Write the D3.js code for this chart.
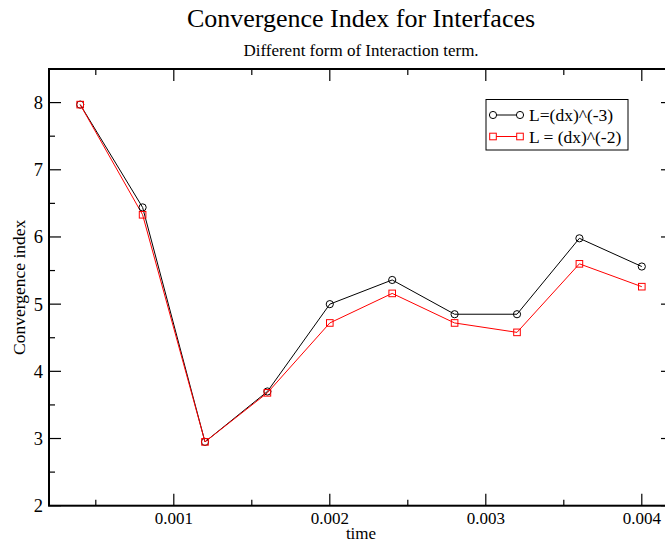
<!DOCTYPE html>
<html><head><meta charset="utf-8">
<script src="https://cdn.jsdelivr.net/npm/d3@7"></script>
<style>html,body{margin:0;padding:0;background:#fff;overflow:hidden}
svg text{font-family:"Liberation Serif","Times New Roman",Times,"DejaVu Serif",serif;}</style>
</head><body>
<svg id="c" width="665" height="542"></svg>
<script>
const times = [0.0004,0.0008,0.0012,0.0016,0.0020,0.0024,0.0028,0.0032,0.0036,0.0040];
const seriesA = [7.97,6.44,2.95,3.70,5.00,5.36,4.85,4.85,5.98,5.56];
const seriesB = [7.97,6.33,2.95,3.68,4.72,5.16,4.72,4.58,5.60,5.26];
const seriesNames = ["L=(dx)^(-3)","L = (dx)^(-2)"];
const xTickLabels = ["0.001","0.002","0.003","0.004"];
const yTickLabels = ["2","3","4","5","6","7","8"];

const svg = d3.select("#c");
const L=49, R=673, T=69, B=505.7;
const x = d3.scaleLinear().domain([0.0002,0.0042]).range([L,R]);
const y = d3.scaleLinear().domain([2,8.5]).range([B,T]);

svg.append("text").attr("x",(L+R)/2).attr("y",27).attr("text-anchor","middle")
  .attr("font-size",26).text("Convergence Index for Interfaces");
svg.append("text").attr("x",(L+R)/2).attr("y",56).attr("text-anchor","middle")
  .attr("font-size",17).text("Different form of Interaction term.");

const g = svg.append("g");
const majX = xTickLabels.map(Number);
const minX = [0.0005,0.0015,0.0025,0.0035];
const majY = yTickLabels.map(Number);
const minY = [2.5,3.5,4.5,5.5,6.5,7.5];

function ticksX(vals,len){
  vals.forEach(v=>{
    g.append("line").attr("x1",x(v)).attr("x2",x(v)).attr("y1",B).attr("y2",B-len).attr("stroke","#000").attr("stroke-width",1.2);
    g.append("line").attr("x1",x(v)).attr("x2",x(v)).attr("y1",T).attr("y2",T+len).attr("stroke","#000").attr("stroke-width",1.2);
  });
}
function ticksY(vals,len){
  vals.forEach(v=>{
    g.append("line").attr("y1",y(v)).attr("y2",y(v)).attr("x1",L).attr("x2",L+len).attr("stroke","#000").attr("stroke-width",1.2);
    g.append("line").attr("y1",y(v)).attr("y2",y(v)).attr("x1",R).attr("x2",R-len).attr("stroke","#000").attr("stroke-width",1.2);
  });
}
ticksX(majX,12); ticksX(minX,6); ticksY(majY,12); ticksY(minY,6);

g.append("rect").attr("x",L).attr("y",T).attr("width",R-L).attr("height",B-T)
  .attr("fill","none").attr("stroke","#000").attr("stroke-width",2);

majX.forEach((v,i)=>{
  svg.append("text").attr("x",x(v)).attr("y",524).attr("text-anchor","middle")
    .attr("font-size",17).text(xTickLabels[i]);
});
majY.forEach((v,i)=>{
  svg.append("text").attr("x",43).attr("y",y(v)+6.5).attr("text-anchor","end")
    .attr("font-size",18.5).text(yTickLabels[i]);
});
svg.append("text").attr("x",(L+R)/2).attr("y",538.5).attr("text-anchor","middle")
  .attr("font-size",17).text("time");
svg.append("text").attr("transform",`translate(25,${(T+B)/2}) rotate(-90)`).attr("text-anchor","middle")
  .attr("font-size",17.5).text("Convergence index");

const line = d3.line().x((d,i)=>x(times[i])).y(d=>y(d));
svg.append("path").datum(seriesA).attr("d",line).attr("fill","none").attr("stroke","#000").attr("stroke-width",1);
svg.append("path").datum(seriesB).attr("d",line).attr("fill","none").attr("stroke","#f00").attr("stroke-width",1);
svg.selectAll(".ca").data(seriesA).enter().append("circle")
  .attr("cx",(d,i)=>x(times[i])).attr("cy",d=>y(d)).attr("r",3.6)
  .attr("fill","none").attr("stroke","#000").attr("stroke-width",1);
svg.selectAll(".sb").data(seriesB).enter().append("rect")
  .attr("x",(d,i)=>x(times[i])-3.3).attr("y",d=>y(d)-3.3).attr("width",6.6).attr("height",6.6)
  .attr("fill","none").attr("stroke","#f00").attr("stroke-width",1);

const lg = svg.append("g");
lg.append("rect").attr("x",486).attr("y",99.5).attr("width",142).attr("height",50.5)
  .attr("fill","#fff").attr("stroke","#000").attr("stroke-width",1);
const rows=[115,136.5];
lg.append("line").attr("x1",493).attr("x2",520).attr("y1",rows[0]).attr("y2",rows[0]).attr("stroke","#000");
lg.append("circle").attr("cx",493).attr("cy",rows[0]).attr("r",3.6).attr("fill","#fff").attr("stroke","#000");
lg.append("circle").attr("cx",520).attr("cy",rows[0]).attr("r",3.6).attr("fill","#fff").attr("stroke","#000");
lg.append("line").attr("x1",493).attr("x2",520).attr("y1",rows[1]).attr("y2",rows[1]).attr("stroke","#f00");
lg.append("rect").attr("x",493-3.3).attr("y",rows[1]-3.3).attr("width",6.6).attr("height",6.6).attr("fill","#fff").attr("stroke","#f00");
lg.append("rect").attr("x",520-3.3).attr("y",rows[1]-3.3).attr("width",6.6).attr("height",6.6).attr("fill","#fff").attr("stroke","#f00");
seriesNames.forEach((n,i)=>{
  lg.append("text").attr("x",529).attr("y",rows[i]+6).attr("font-size",17.5).text(n);
});
</script>
</body></html>
